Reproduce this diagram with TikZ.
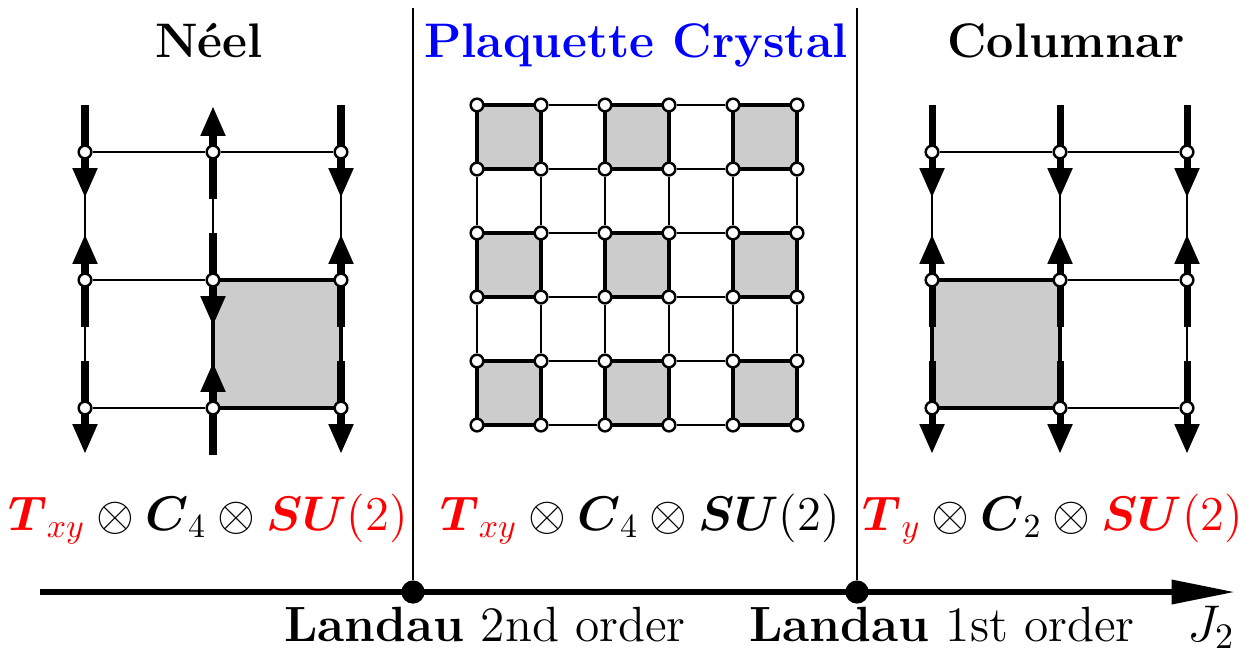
\documentclass[tikz,border=0pt]{standalone}
\usepackage{xcolor}
\usepackage{amsmath,amssymb}
\usepackage{tikz}
\usetikzlibrary{arrows.meta,positioning,backgrounds}
\definecolor{symred}{RGB}{255, 0, 0}
\definecolor{plaqblue}{RGB}{0, 0, 255}
\definecolor{plaqgray}{RGB}{204, 204, 204}

\begin{document}
\begin{tikzpicture}[
        x=0.01cm, y=-0.01cm,
        site/.style={circle, draw, fill=white, line width=0.7pt, inner sep=0pt, minimum size=3.6pt},
        bond/.style={line width=0.5pt},
        plaq/.style={draw, fill=plaqgray, line width=1.2pt},
        spin/.style={line width=2pt, -{Triangle[length=8.5pt,width=6.6pt]}},
        title/.style={font=\fontsize{13.8}{16}\selectfont\bfseries},
        sym/.style={font=\fontsize{13.8}{16}\selectfont, scale=1.02},
        group/.style={font=\fontsize{13.8}{16}\selectfont, scale=0.96},
        axis/.style={line width=1.7pt, -{Triangle[length=18pt,width=6.6pt]}},
        sep/.style={line width=0.5pt},
        trans/.style={circle, fill, inner sep=0pt, minimum size=6.6pt}
    ]
        \useasboundingbox (0,0) rectangle (1246,656);

        % Titles
        \node[title, anchor=base] (tNeel) at (209,57) {Néel};
        \node[title, anchor=base, text=plaqblue] (tPlaq) at (636,57) {Plaquette Crystal};
        \node[title, anchor=base] (tCol) at (1066,57) {Columnar};

        % Neel lattice
        \foreach \c/\x in {0/85,1/213,2/341}
            \foreach \r/\y in {0/152,1/280,2/408}
                \node[site] (n-\c-\r) at (\x,\y) {};
        \begin{scope}[on background layer]
            \draw[plaq] (n-1-1.center) rectangle (n-2-2.center);
            \foreach \r in {0,1,2}
                \draw[bond] (n-0-\r) -- (n-1-\r) -- (n-2-\r);
            \foreach \c in {0,1,2}
                \draw[bond] (n-\c-0) -- (n-\c-1) -- (n-\c-2);
            \foreach \s/\d in {n-0-0/1,n-1-0/-1,n-2-0/1,n-0-1/-1,n-1-1/1,n-2-1/-1,n-0-2/1,n-1-2/-1,n-2-2/1}
                \draw[spin] (\s.center) ++(0,-47*\d) -- ++(0,93*\d);
        \end{scope}

        % Plaquette lattice
        \foreach \c in {0,...,5}
            \foreach \r in {0,...,5}
                \node[site] (p-\c-\r) at (477+64*\c,105+64*\r) {};
        \begin{scope}[on background layer]
            \foreach \c in {0,2,4}
                \foreach \r in {0,2,4}
                    \draw[plaq] (p-\c-\r.center) rectangle (p-\the\numexpr\c+1\relax-\the\numexpr\r+1\relax.center);
            \foreach \r in {0,...,5}
                \draw[bond] (p-0-\r) -- (p-1-\r) -- (p-2-\r) -- (p-3-\r) -- (p-4-\r) -- (p-5-\r);
            \foreach \c in {0,...,5}
                \draw[bond] (p-\c-0) -- (p-\c-1) -- (p-\c-2) -- (p-\c-3) -- (p-\c-4) -- (p-\c-5);
        \end{scope}

        % Columnar lattice
        \foreach \c/\x in {0/932,1/1060,2/1187}
            \foreach \r/\y in {0/152,1/280,2/408}
                \node[site] (c-\c-\r) at (\x,\y) {};
        \begin{scope}[on background layer]
            \draw[plaq] (c-0-1.center) rectangle (c-1-2.center);
            \foreach \r in {0,1,2}
                \draw[bond] (c-0-\r) -- (c-1-\r) -- (c-2-\r);
            \foreach \c in {0,1,2}
                \draw[bond] (c-\c-0) -- (c-\c-1) -- (c-\c-2);
            \foreach \c in {0,1,2}
                \foreach \r/\d in {0/1,1/-1,2/1}
                    \draw[spin] (c-\c-\r.center) ++(0,-47*\d) -- ++(0,93*\d);
        \end{scope}

        % Symmetry groups
        \node[group, anchor=base] (gNeel) at (208,530) {$\color{symred}\boldsymbol{T}_{xy}\color{black}\otimes\boldsymbol{C}_4\otimes\color{symred}\boldsymbol{SU}(2)$};
        \node[group, anchor=base] (gPlaq) at (640,530) {$\color{symred}\boldsymbol{T}_{xy}\color{black}\otimes\boldsymbol{C}_4\otimes\boldsymbol{SU}(2)$};
        \node[group, anchor=base] (gCol) at (1053,530) {$\color{symred}\boldsymbol{T}_{y}\color{black}\otimes\boldsymbol{C}_2\otimes\color{symred}\boldsymbol{SU}(2)$};

        % Phase axis
        \coordinate (axL) at (40,592);
        \coordinate (axR) at (1235,592);
        \draw[axis] (axL) -- (axR);
        \node[trans] (t1) at (413,592) {};
        \node[trans] (t2) at (857,592) {};
        \coordinate (top1) at (413,8);
        \coordinate (top2) at (857,8);
        \draw[sep] (top1) -- (t1);
        \draw[sep] (top2) -- (t2);

        % Transition labels
        \node[sym, anchor=base] (l1) at (485,641) {\textbf{Landau} 2nd order};
        \node[sym, anchor=base] (l2) at (942,641) {\textbf{Landau} 1st order};
        \node[sym, anchor=base] (lJ) at (1211,641) {$J_2$};
    \end{tikzpicture}
\end{document}
